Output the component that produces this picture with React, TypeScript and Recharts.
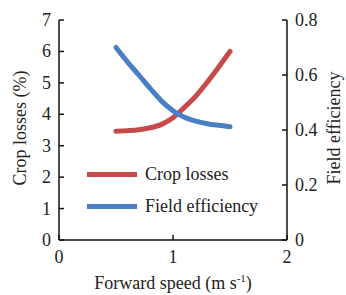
import React from 'react';
import { LineChart, Line, XAxis, YAxis, Legend, Label } from 'recharts';

const speeds = [0.5, 0.6, 0.7, 0.8, 0.9, 1.0, 1.1, 1.2, 1.3, 1.4, 1.5];
const cropLosses = [3.46, 3.48, 3.51, 3.57, 3.68, 3.89, 4.22, 4.58, 5.02, 5.5, 6.0];
const fieldEfficiency = [0.7, 0.648, 0.6, 0.551, 0.505, 0.47, 0.446, 0.432, 0.423, 0.417, 0.412];
const xTicks = [0, 1, 2];
const leftTicks = [0, 1, 2, 3, 4, 5, 6, 7];
const rightTicks = [0, 0.2, 0.4, 0.6, 0.8];

const data = speeds.map((s, i) => ({ speed: s, loss: cropLosses[i], eff: fieldEfficiency[i] }));

const FONT = 'Liberation Serif';
const RED = '#c64a4a';
const BLUE = '#4a7fc6';

const LegendContent = (props: any) => {
  const payload = props.payload || [];
  return (
    <div style={{ fontFamily: FONT, fontSize: 18, color: '#222' }}>
      {payload.map((p: any) => (
        <div key={p.value} style={{ display: 'flex', alignItems: 'center', height: 32 }}>
          <div style={{ width: 50, height: 5, background: p.color, marginRight: 8 }} />
          <span>{p.value}</span>
        </div>
      ))}
    </div>
  );
};

const makeTick = (anchor: string, fmt?: (v: number) => string) => (props: any) => {
  const { x, y, payload } = props;
  const v = payload.value;
  const label = fmt ? fmt(v) : String(v);
  const dy = anchor === 'middle' ? 12 : 6;
  return (
    <text x={x} y={y} dy={dy} textAnchor={anchor} fontFamily={FONT} fontSize={18} fill="#222">
      {label}
    </text>
  );
};

export default function App() {
  return (
    <div style={{ position: 'absolute', left: 0, top: 0, width: 346, height: 295, background: '#fff', fontFamily: FONT }}>
      <LineChart width={346} height={295} data={data} margin={{ top: 20, right: 0, bottom: 0, left: 0 }} style={{ fontFamily: FONT }}>
        <XAxis
          dataKey="speed"
          type="number"
          domain={[0, 2]}
          ticks={xTicks}
          height={55}
          tickSize={-5}
          tickMargin={16}
          tick={makeTick('middle')}
          stroke="#111"
          strokeWidth={1.5}
        >
          <Label
            content={(p: any) => {
              const vb = p.viewBox;
              const cx = vb.x + vb.width / 2;
              return (
                <text x={cx} y={vb.y + 49} textAnchor="middle" fontFamily={FONT} fontSize={18} fill="#222">
                  Forward speed (m s
                  <tspan dy={-7} fontSize={11}>-1</tspan>
                  <tspan dy={7}>)</tspan>
                </text>
              );
            }}
          />
        </XAxis>
        <YAxis
          yAxisId="left"
          orientation="left"
          domain={[0, 7]}
          ticks={leftTicks}
          width={59}
          tickSize={-5}
          tickMargin={13}
          tick={makeTick('end')}
          stroke="#111"
          strokeWidth={1.5}
        >
          <Label
            content={(p: any) => {
              const vb = p.viewBox;
              const cy = vb.y + vb.height / 2 - 2;
              const x = 26;
              return (
                <text x={x} y={cy} textAnchor="middle" transform={`rotate(-90, ${x}, ${cy})`} fontFamily={FONT} fontSize={18} fill="#222">
                  Crop losses (%)
                </text>
              );
            }}
          />
        </YAxis>
        <YAxis
          yAxisId="right"
          orientation="right"
          domain={[0, 0.8]}
          ticks={rightTicks}
          width={59}
          tickSize={-5}
          tickMargin={13}
          tick={makeTick('start', (v: number) => (v === 0 ? '0' : String(v)))}
          stroke="#111"
          strokeWidth={1.5}
        >
          <Label
            content={(p: any) => {
              const vb = p.viewBox;
              const cy = vb.y + vb.height / 2 - 2;
              const x = 340;
              return (
                <text x={x} y={cy} textAnchor="middle" transform={`rotate(-90, ${x}, ${cy})`} fontFamily={FONT} fontSize={18} fill="#222">
                  Field efficiency
                </text>
              );
            }}
          />
        </YAxis>
        <Legend
          content={LegendContent}
          layout="vertical"
          verticalAlign="middle"
          align="center"
          wrapperStyle={{ left: 87, top: 158, width: 200 }}
        />
        <Line
          yAxisId="left"
          dataKey="loss"
          name="Crop losses"
          type="monotone"
          stroke={RED}
          strokeWidth={5}
          strokeLinecap="round"
          dot={false}
          isAnimationActive={false}
        />
        <Line
          yAxisId="right"
          dataKey="eff"
          name="Field efficiency"
          type="monotone"
          stroke={BLUE}
          strokeWidth={5}
          strokeLinecap="round"
          dot={false}
          isAnimationActive={false}
        />
      </LineChart>
    </div>
  );
}
